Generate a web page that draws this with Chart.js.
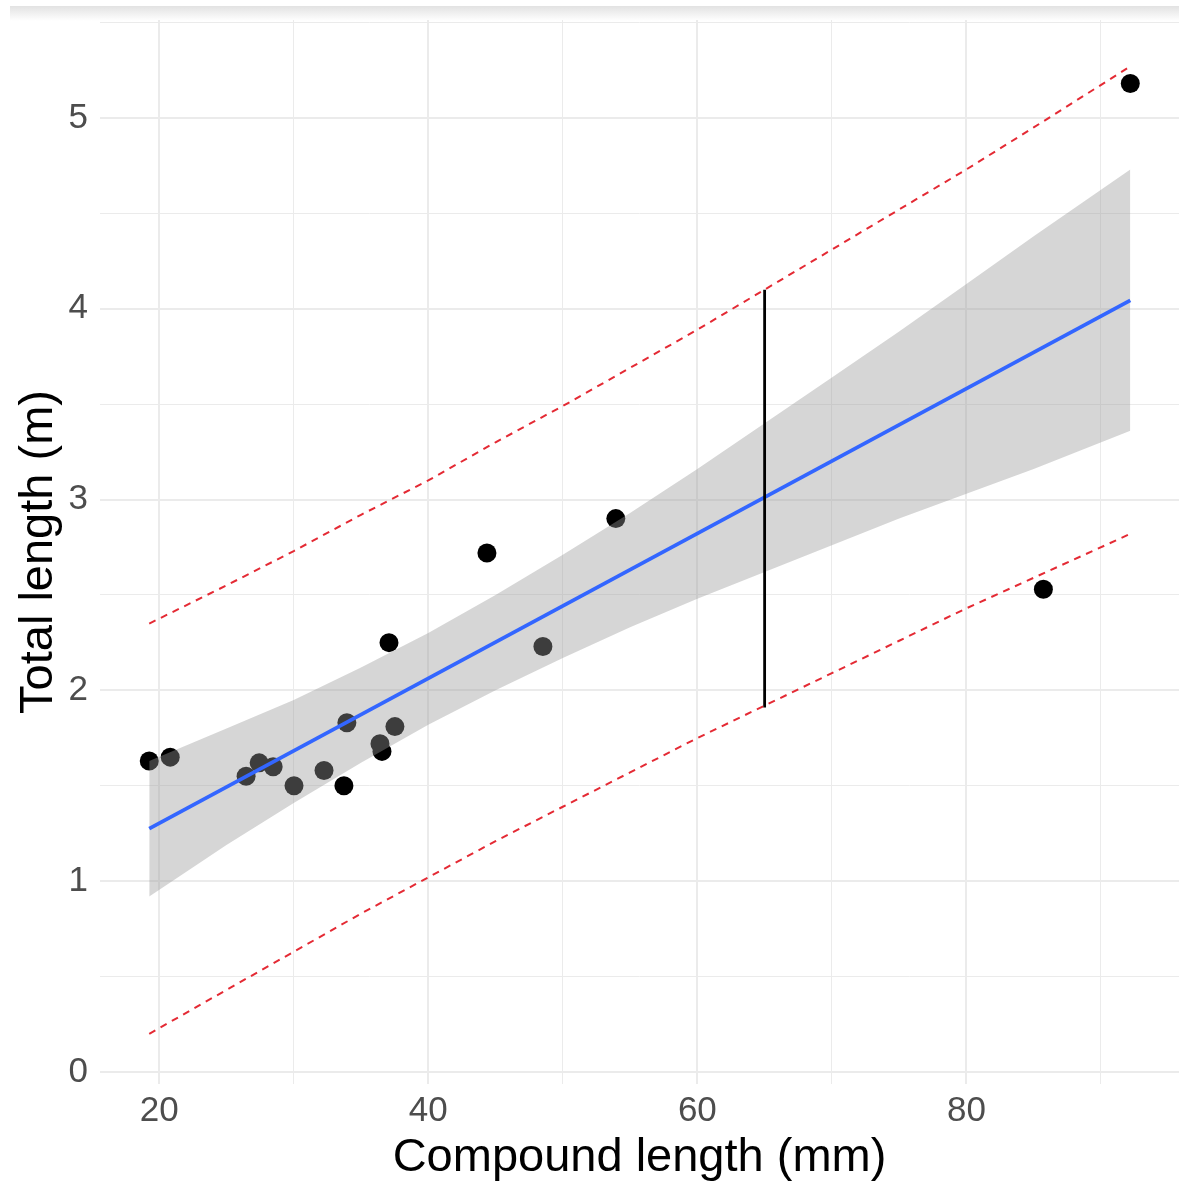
<!DOCTYPE html>
<html>
<head>
<meta charset="utf-8">
<script src="https://cdn.jsdelivr.net/npm/chart.js@4.4.1/dist/chart.umd.min.js"></script>
<style>
    body { margin: 0; background: #ffffff; overflow: hidden; }
    #wrap { width: 1179px; height: 1181px; }
</style>
</head>
<body>
<div id="wrap"><canvas id="lengthChart" width="1179" height="1181"></canvas></div>
<script>
// observed specimens
const compoundLength = [19.26, 20.82, 26.46, 27.43, 28.47, 30.02, 32.25, 33.73, 33.95, 36.41, 36.56, 37.08, 37.52, 44.36, 48.52, 53.94, 85.72, 92.18];
const totalLength = [1.63, 1.65, 1.55, 1.62, 1.60, 1.50, 1.58, 1.50, 1.83, 1.72, 1.68, 2.25, 1.81, 2.72, 2.23, 2.90, 2.53, 5.18];

// fitted line
const fitX = [19.26, 92.18];
const fitY = [1.275, 4.044];

// confidence band and prediction limits, read along these x values
const bandX = [19.26, 25, 30, 35, 40, 45, 50, 55, 60, 65, 70, 75, 80, 85, 92.18];
const bandLower = [0.92, 1.19, 1.41, 1.62, 1.82, 2.00, 2.17, 2.33, 2.48, 2.62, 2.76, 2.90, 3.03, 3.16, 3.36];
const bandUpper = [1.63, 1.80, 1.95, 2.12, 2.30, 2.50, 2.71, 2.93, 3.16, 3.40, 3.64, 3.88, 4.13, 4.38, 4.73];
const predLower = [0.20, 0.43, 0.63, 0.83, 1.02, 1.21, 1.39, 1.57, 1.75, 1.92, 2.09, 2.26, 2.43, 2.59, 2.82];
const predUpper = [2.35, 2.55, 2.73, 2.92, 3.10, 3.30, 3.49, 3.69, 3.89, 4.10, 4.31, 4.52, 4.73, 4.95, 5.27];

// vertical interval at x = 65
const markerX = 65;
const markerY = [1.91, 4.10];

// grid positions and which of them carry a label
const xGrid = [20, 30, 40, 50, 60, 70, 80, 90];
const xLabels = [20, 40, 60, 80];
const yGrid = [0, 0.5, 1, 1.5, 2, 2.5, 3, 3.5, 4, 4.5, 5, 5.5];
const yLabels = [0, 1, 2, 3, 4, 5];

function toPoints(xs, ys) {
    return xs.map((x, i) => ({ x: x, y: ys[i] }));
}

function noPadding(s) {
    s.paddingTop = 0;
    s.paddingBottom = 0;
    s.paddingLeft = 0;
    s.paddingRight = 0;
}

// the grey strip along the top edge of the screenshot
const topStrip = {
    id: 'topStrip',
    beforeDraw(chart) {
        const ctx = chart.ctx;
        const g = ctx.createLinearGradient(0, 6, 0, 21);
        g.addColorStop(0, '#e2e2e2');
        g.addColorStop(1, '#ffffff');
        ctx.save();
        ctx.fillStyle = g;
        ctx.fillRect(10, 6, 1169, 15);
        ctx.restore();
    }
};

const tickFont = { family: "'Liberation Sans', Arial, sans-serif", size: 35 };
const titleFont = { family: "'Liberation Sans', Arial, sans-serif", size: 47 };

const ctx = document.getElementById('lengthChart').getContext('2d');

new Chart(ctx, {
    type: 'line',
    data: {
        datasets: [
            {
                type: 'line',
                data: toPoints(bandX, predUpper),
                borderColor: 'rgb(228,42,52)',
                borderWidth: 2,
                borderDash: [7, 6],
                pointRadius: 0,
                fill: false,
                order: 1
            },
            {
                type: 'line',
                data: toPoints(bandX, predLower),
                borderColor: 'rgb(228,42,52)',
                borderWidth: 2,
                borderDash: [7, 6],
                pointRadius: 0,
                fill: false,
                order: 1
            },
            {
                type: 'line',
                data: [{ x: markerX, y: markerY[0] }, { x: markerX, y: markerY[1] }],
                borderColor: '#000000',
                borderWidth: 2.8,
                pointRadius: 0,
                fill: false,
                order: 2
            },
            {
                type: 'line',
                data: toPoints(fitX, fitY),
                borderColor: '#3366FF',
                borderWidth: 3.8,
                pointRadius: 0,
                fill: false,
                order: 3
            },
            {
                type: 'line',
                data: toPoints(bandX, bandLower),
                borderColor: 'transparent',
                borderWidth: 0,
                pointRadius: 0,
                fill: false,
                order: 4
            },
            {
                type: 'line',
                data: toPoints(bandX, bandUpper),
                borderColor: 'transparent',
                borderWidth: 0,
                backgroundColor: 'rgba(153,153,153,0.4)',
                pointRadius: 0,
                fill: '-1',
                order: 4
            },
            {
                type: 'scatter',
                data: toPoints(compoundLength, totalLength),
                backgroundColor: '#000000',
                borderWidth: 0,
                pointRadius: 9.5,
                order: 5
            }
        ]
    },
    options: {
        responsive: false,
        animation: false,
        devicePixelRatio: 1,
        layout: { autoPadding: false, padding: { top: 20, right: 0, bottom: 0, left: 0 } },
        plugins: {
            legend: { display: false },
            tooltip: { enabled: false }
        },
        scales: {
            x: {
                type: 'linear',
                min: 15.6,
                max: 95.8,
                afterBuildTicks: s => { s.ticks = xGrid.map(v => ({ value: v })); },
                afterFit: s => { s.height = 97; noPadding(s); },
                border: { display: false },
                grid: {
                    drawTicks: false,
                    color: '#ebebeb',
                    lineWidth: c => xLabels.includes(c.tick.value) ? 2 : 1
                },
                ticks: {
                    padding: 6,
                    color: '#4d4d4d',
                    font: tickFont,
                    maxRotation: 0,
                    autoSkip: false,
                    callback: v => xLabels.includes(v) ? String(v) : ''
                },
                title: {
                    display: true,
                    text: 'Compound length (mm)',
                    color: '#000000',
                    font: titleFont,
                    padding: { top: 0, bottom: -5 }
                }
            },
            y: {
                type: 'linear',
                min: -0.063,
                max: 5.513,
                afterBuildTicks: s => { s.ticks = yGrid.map(v => ({ value: v })); },
                afterFit: s => { s.width = 100; noPadding(s); },
                border: { display: false },
                grid: {
                    drawTicks: false,
                    color: '#ebebeb',
                    lineWidth: c => yLabels.includes(c.tick.value) ? 2 : 1
                },
                ticks: {
                    padding: 12,
                    color: '#4d4d4d',
                    font: tickFont,
                    autoSkip: false,
                    callback: v => yLabels.includes(v) ? String(v) : ''
                },
                title: {
                    display: true,
                    text: 'Total length (m)',
                    color: '#000000',
                    font: titleFont,
                    padding: { top: 11, bottom: 0 }
                }
            }
        }
    },
    plugins: [topStrip]
});
</script>
</body>
</html>
